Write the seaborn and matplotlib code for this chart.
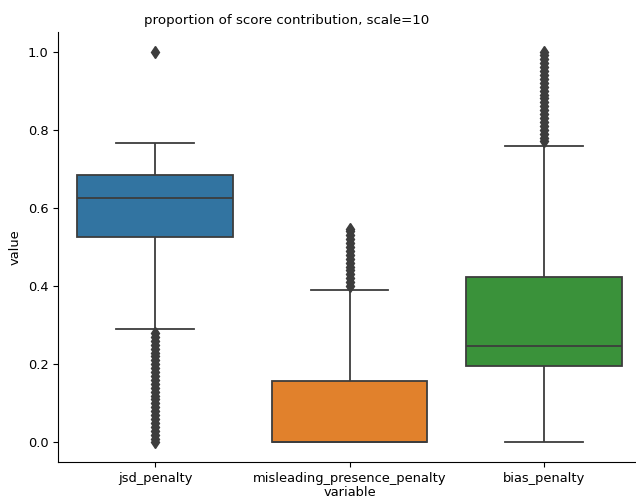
import matplotlib
matplotlib.use("Agg")

import matplotlib.pyplot as plt
import numpy as np
import pandas as pd
import seaborn as sns

# categories on the x axis
variables = ["jsd_penalty", "misleading_presence_penalty", "bias_penalty"]

# jsd_penalty: whisker low, Q1, median, Q3, whisker high (with weights) + outliers
jsd_core = [0.29, 0.525, 0.625, 0.683, 0.765]
jsd_counts = [1, 200, 200, 200, 1]
jsd_outliers = [0.0, 0.01, 0.02, 0.03, 0.04, 0.05, 0.06, 0.07, 0.08, 0.09,
                0.10, 0.11, 0.12, 0.13, 0.14, 0.15, 0.16, 0.17, 0.18, 0.19,
                0.20, 0.21, 0.22, 0.23, 0.24, 0.25, 0.26, 0.27, 0.28, 1.0]

# misleading_presence_penalty: Q1 = median = 0
misleading_core = [0.0, 0.158, 0.39]
misleading_counts = [400, 200, 1]
misleading_outliers = [0.40, 0.41, 0.42, 0.43, 0.44, 0.45, 0.46, 0.47,
                       0.48, 0.49, 0.50, 0.51, 0.52, 0.53, 0.54, 0.545]

# bias_penalty
bias_core = [0.0, 0.196, 0.248, 0.422, 0.758]
bias_counts = [1, 200, 200, 200, 1]
bias_outliers = [0.77, 0.78, 0.79, 0.80, 0.81, 0.82, 0.83, 0.84, 0.85, 0.86,
                 0.87, 0.88, 0.89, 0.90, 0.91, 0.92, 0.93, 0.94, 0.95, 0.96,
                 0.97, 0.98, 0.99, 1.0]


def build_values(core, counts, outliers):
    return np.concatenate([np.repeat(core, counts), outliers])


series = {
    "jsd_penalty": build_values(jsd_core, jsd_counts, jsd_outliers),
    "misleading_presence_penalty": build_values(misleading_core, misleading_counts, misleading_outliers),
    "bias_penalty": build_values(bias_core, bias_counts, bias_outliers),
}

df = pd.concat([pd.DataFrame({"variable": name, "value": vals}) for name, vals in series.items()],
               ignore_index=True)

plt.rcParams["font.size"] = 9.4

fig = plt.figure(figsize=(6.36, 4.98), dpi=100)
ax = fig.add_axes([58 / 636, 36 / 498, 583 / 636, 430 / 498])

line_gray = ".24"
sns.boxplot(data=df, x="variable", y="value", hue="variable", order=variables,
            hue_order=variables, palette="tab10", saturation=0.75, legend=False,
            linecolor=line_gray, linewidth=1.3,
            flierprops=dict(marker="d", markerfacecolor=line_gray, markeredgecolor=line_gray,
                            markersize=6.5),
            ax=ax)

ax.set_xlim(-0.5, 2.5)
sns.despine(ax=ax)
ax.set_xlabel("variable", labelpad=1)
ax.set_ylabel("value")
fig.suptitle("proportion of score contribution, scale=10", x=287 / 636, y=1 - 20 / 498,
             va="center", fontsize=9.6)

fig.savefig("out.png", dpi=100)
